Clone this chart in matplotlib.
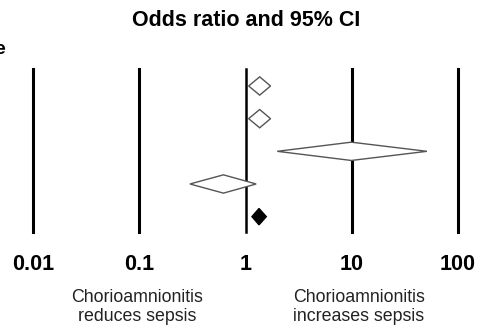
import matplotlib
matplotlib.use("Agg")
import matplotlib.pyplot as plt
from matplotlib.patches import Polygon

# Study estimates (odds ratio and 95% CI), top to bottom
odds_ratio = [1.36, 1.36, 9.9, 0.62, 1.34]
ci_low = [1.07, 1.07, 1.99, 0.30, 1.15]
ci_high = [1.72, 1.72, 51.0, 1.26, 1.57]
is_pooled = [False, False, False, False, True]

ref_lines = [0.01, 0.1, 1, 10, 100]
tick_labels = ["0.01", "0.1", "1", "10", "100"]

plt.rcParams["font.family"] = ["Liberation Sans", "DejaVu Sans"]

W, H = 486, 327
fig = plt.figure(figsize=(W / 100, H / 100), dpi=100)
ax = fig.add_axes([33 / W, 1 - 232 / H, (458 - 33) / W, (232 - 69) / H])

ax.set_xscale("log")
ax.set_xlim(0.01, 100)
ax.set_ylim(5.47, 0.48)

# Vertical reference lines at each decade
for v in ref_lines:
    ax.axvline(v, color="black", lw=2.2 if v != 1 else 1.8, zorder=1, clip_on=False)

# Diamonds: horizontal extent = CI, centre = OR
for i, (orr, lo, hi, pooled) in enumerate(zip(odds_ratio, ci_low, ci_high, is_pooled)):
    y = i + 1
    h = 0.25 if pooled else 0.28
    pts = [(lo, y), (orr, y - h), (hi, y), (orr, y + h)]
    poly = Polygon(pts, closed=True,
                   facecolor="black" if pooled else "white",
                   edgecolor="black" if pooled else "#555555",
                   lw=1.0, zorder=3, clip_on=False)
    ax.add_patch(poly)

for s in ax.spines.values():
    s.set_visible(False)
ax.set_yticks([])
ax.minorticks_off()
ax.set_xticks(ref_lines)
ax.set_xticklabels(tick_labels, fontsize=15.5, fontweight="bold")
ax.tick_params(axis="x", length=0, pad=16)

fig.text(246 / W, 1 - 20 / H, "Odds ratio and 95% CI", ha="center", va="center",
         fontsize=15.5, fontweight="bold")
fig.text(137 / W, 1 - 307 / H, "Chorioamnionitis\nreduces sepsis", ha="center",
         va="center", fontsize=12.8, color="#222222", linespacing=1.1)
fig.text(359 / W, 1 - 307 / H, "Chorioamnionitis\nincreases sepsis", ha="center",
         va="center", fontsize=12.8, color="#222222", linespacing=1.1)
# clipped label fragment at the left edge
fig.text(-6 / W, 1 - 49 / H, "e", ha="left", va="center", fontsize=14, fontweight="bold")

plt.savefig("out.png", dpi=100)
